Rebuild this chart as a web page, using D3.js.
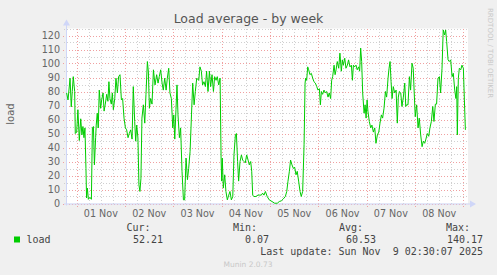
<!DOCTYPE html>
<html>
<head>
<meta charset="utf-8">
<script src="https://cdnjs.cloudflare.com/ajax/libs/d3/7.8.5/d3.min.js"></script>
<style>
  body { margin: 0; background: #f0f0f0; }
  svg { display: block; }
</style>
</head>
<body>
<script>
// hours since 01 Nov 2025 00:00 (UTC)
var hours = [
  -5.0, -4.3, -3.3, -2.7, -2.2, -1.7, -1.0, -0.7, 0.0, 0.6, 1.3, 2.0, 2.6, 3.1, 3.6, 4.1, 4.6, 4.9, 5.3, 5.8,
  6.6, 7.3, 7.8, 8.3, 8.8, 9.4, 9.7, 10.2, 10.7, 11.2, 11.9, 12.4, 13.1, 13.6, 14.2, 14.9, 15.5, 16.0, 16.5, 17.2,
  17.7, 18.2, 18.9, 19.5, 20.2, 20.8, 21.5, 22.2, 22.8, 23.5, 24.2, 24.8, 25.5, 26.1, 26.8, 27.5, 28.1, 28.8, 29.3, 29.8,
  30.4, 30.9, 31.4, 31.9, 32.4, 33.1, 33.8, 34.4, 35.1, 35.6, 36.1, 36.7, 37.4, 38.1, 38.9, 39.7, 40.4, 41.0, 41.7, 42.4,
  43.0, 43.7, 44.4, 45.0, 45.7, 46.3, 47.0, 47.7, 48.2, 48.7, 49.3, 49.8, 50.3, 51.0, 51.6, 52.3, 53.0, 53.6, 54.3, 55.0,
  55.6, 56.3, 57.0, 57.6, 58.3, 58.9, 59.6, 60.6, 61.2, 61.9, 62.5, 63.2, 63.9, 64.5, 65.2, 65.9, 66.5, 67.2, 67.9, 68.5,
  69.2, 69.8, 70.5, 71.2, 71.7, 72.0, 72.3, 72.8, 73.5, 74.1, 74.8, 75.5, 76.1, 76.8, 77.5, 78.1, 78.8, 79.3, 79.9, 80.4,
  81.1, 81.8, 82.4, 83.1, 83.7, 84.4, 85.1, 85.7, 86.4, 86.9, 87.4, 88.0, 89.0, 90.0, 90.7, 91.7, 92.3, 93.0, 93.7, 94.6,
  95.6, 97.0, 98.3, 99.6, 100.6, 101.6, 102.6, 103.6, 104.3, 104.9, 105.6, 106.2, 106.9, 107.6, 108.2, 108.9, 109.5, 110.2, 110.9, 111.5,
  112.2, 112.9, 113.4, 113.7, 114.2, 114.7, 115.2, 115.8, 116.5, 117.2, 117.8, 118.5, 119.2, 119.8, 120.5, 121.0, 121.5, 122.1, 122.8, 123.5,
  124.1, 124.8, 125.4, 126.1, 126.6, 127.1, 127.8, 128.3, 128.8, 129.4, 130.1, 130.7, 131.4, 131.9, 132.4, 133.1, 133.7, 134.4, 135.0, 135.7,
  136.4, 136.9, 137.4, 138.0, 138.7, 139.3, 140.0, 140.5, 141.0, 141.5, 142.0, 142.7, 143.2, 143.7, 144.2, 144.6, 145.3, 146.0, 146.6, 147.3,
  148.0, 148.6, 149.3, 150.0, 150.6, 151.3, 151.9, 152.6, 153.3, 153.9, 154.6, 155.1, 155.6, 156.1, 156.6, 157.2, 157.9, 158.6, 159.2, 159.7,
  160.2, 160.9, 161.5, 162.2, 162.9, 163.4, 163.8, 164.5, 165.2, 165.8, 166.5, 167.1, 167.6, 168.1, 168.8, 169.5, 170.1, 170.8, 171.5, 172.1,
  172.8, 173.4, 174.1, 174.8, 175.4, 176.1, 176.8, 177.4, 178.1, 178.7, 179.4, 180.1, 180.7, 181.4, 182.0, 182.7, 183.2, 183.7, 184.4, 185.0,
  185.7, 186.4, 187.0, 187.7, 188.3, 188.7, 189.0, 189.5, 190.0, 190.7, 191.3, 192.0, 192.5, 193.0
];
var load = [
  79, 74, 89.5, 69, 80, 90.6, 80, 50, 51, 67, 45, 60.5, 49, 55, 47, 54, 25, 4, 11, 3,
  4.4, 3, 54, 55, 27.6, 47, 56, 64.5, 54, 81, 68, 74, 79, 66, 71, 78, 73, 87, 75, 71,
  79, 67, 75, 89.5, 79, 90.6, 92, 74, 75, 61, 54, 52.6, 47, 50, 52.6, 46, 83.5, 58.6, 44.5, 56,
  47, 13.3, 8.6, 18, 61, 70.5, 57.4, 78, 101.4, 94, 68, 75, 71, 95.5, 84.7, 92, 86, 90.6, 95.5, 86,
  81, 89.5, 81, 89.5, 96.6, 79, 75, 54, 63.3, 46, 67, 84.7, 63.3, 47, 54, 23, 2.6, 2.6, 32.4, 17,
  25, 37, 63.3, 86, 70.5, 80, 89.5, 88, 97.6, 94.5, 84.7, 87, 83.5, 94.5, 80, 94.5, 83.5, 92, 80, 90.6,
  88, 90.6, 84.7, 89.5, 32.4, 16, 32.4, 11, 20.5, 8.6, 2.6, 6, 8.6, 2.6, 5, 34.7, 49, 50, 30, 16,
  30, 34.7, 31, 30, 29, 34.7, 31, 27.6, 30, 23, 6, 5, 5, 6, 6, 6, 7.4, 6, 8.6, 5,
  2.6, 1.4, 0.2, 0.2, 1.4, 1.9, 3.3, 5, 8.6, 15.8, 23, 31, 27.6, 25, 26, 20.5, 23, 16, 8.6, 5,
  8.6, 42, 86, 89.5, 88, 97.6, 95.5, 92, 93, 89.5, 87, 86, 83.5, 81, 82, 70.5, 80, 78, 81, 79,
  80, 76, 79, 75, 88, 90.6, 98.8, 92, 95.5, 101.4, 96.6, 107.4, 94.5, 102.6, 98.8, 103.8, 96.6, 98.8, 102.6, 97.6,
  98.8, 88, 98.8, 97.6, 98.8, 95.5, 97.6, 94.5, 111, 101.4, 79, 64.5, 70.5, 61, 74, 66, 58.6, 54, 56, 51,
  54, 43, 49, 51, 57.4, 63.3, 61, 68, 80, 76, 89.5, 96.6, 101.4, 87, 75, 83.5, 79, 81, 57.4, 76,
  80, 79, 69.3, 76, 86, 69.3, 70.5, 70.5, 90.6, 81, 100.2, 96.6, 79, 62, 70.5, 54, 61, 49, 40.6, 44.5,
  43, 46, 50, 48, 54, 58.6, 69.3, 58.6, 71, 71, 89.5, 90.6, 79, 96.6, 124, 120.4, 124, 115.7, 102.6, 101.4,
  102.6, 90.6, 93, 81, 75, 83.5, 49, 89.5, 96.6, 95.5, 98.8, 96.6, 74, 52.6
];
var yTicks = [0, 10, 20, 30, 40, 50, 60, 70, 80, 90, 100, 110, 120];
var legendHeads = ["Cur:", "Min:", "Avg:", "Max:"];
var legendValues = ["52.21", "0.07", "60.53", "140.17"];
var timeWindow = [-5.31, 194.3]; // hours shown on the x axis

var base = Date.UTC(2025, 10, 1);
function hourDate(h) { return new Date(base + h * 3600e3); }

var W = 497, H = 275;
var pL = 66, pR = 468, pT = 28.5, pB = 203.5;

var svg = d3.select("body").append("svg")
  .attr("width", W).attr("height", H)
  .style("font-family", "'DejaVu Sans', sans-serif");

svg.append("rect").attr("width", W).attr("height", H).attr("fill", "#f0f0f0");
svg.append("rect")
  .attr("x", pL).attr("y", pT)
  .attr("width", pR - pL).attr("height", pB - pT)
  .attr("fill", "#ffffff");

var x = d3.scaleUtc()
  .domain(timeWindow.map(hourDate))
  .range([pL, pR]);
var y = d3.scaleLinear().domain([0, 125]).range([pB, pT]);

var grid = svg.append("g").attr("shape-rendering", "crispEdges");

// minor grid
grid.selectAll(".vmin")
  .data(x.ticks(d3.utcHour.every(6)))
  .enter().append("line")
  .attr("x1", function(d) { return Math.round(x(d)) + 0.5; })
  .attr("x2", function(d) { return Math.round(x(d)) + 0.5; })
  .attr("y1", pT).attr("y2", pB + 2)
  .attr("stroke", "#d0d0d0").attr("stroke-dasharray", "1,2");
grid.selectAll(".hmin")
  .data(d3.range(5, 126, 10))
  .enter().append("line")
  .attr("x1", pL - 2).attr("x2", pR)
  .attr("y1", function(d) { return Math.round(y(d)) + 0.5; })
  .attr("y2", function(d) { return Math.round(y(d)) + 0.5; })
  .attr("stroke", "#d0d0d0").attr("stroke-dasharray", "1,2");

// major grid
grid.selectAll(".vmaj")
  .data(x.ticks(d3.utcDay.every(1)))
  .enter().append("line")
  .attr("x1", function(d) { return Math.round(x(d)) + 0.5; })
  .attr("x2", function(d) { return Math.round(x(d)) + 0.5; })
  .attr("y1", pT).attr("y2", pB + 3)
  .attr("stroke", "#f0a0a0").attr("stroke-dasharray", "1,2");
grid.selectAll(".hmaj")
  .data(yTicks)
  .enter().append("line")
  .attr("x1", pL - 3).attr("x2", pR)
  .attr("y1", function(d) { return Math.round(y(d)) + 0.5; })
  .attr("y2", function(d) { return Math.round(y(d)) + 0.5; })
  .attr("stroke", "#f0a0a0").attr("stroke-dasharray", "1,2");

// axes in munin's pale blue, with arrows
var axisCol = "#cfd6f8";
svg.append("line").attr("x1", pL + 0.5).attr("x2", pL + 0.5)
  .attr("y1", pB + 2).attr("y2", pT - 4)
  .attr("stroke", axisCol);
svg.append("line").attr("x1", pL - 2).attr("x2", pR + 4)
  .attr("y1", pB + 0.5).attr("y2", pB + 0.5)
  .attr("stroke", axisCol);
svg.append("path")
  .attr("d", "M" + (pL - 3) + "," + (pT - 3) + "L" + (pL + 0.5) + "," + (pT - 9) + "L" + (pL + 4) + "," + (pT - 3) + "Z")
  .attr("fill", axisCol);
svg.append("path")
  .attr("d", "M" + (pR + 2) + "," + (pB - 3) + "L" + (pR + 8) + "," + (pB + 0.5) + "L" + (pR + 2) + "," + (pB + 4) + "Z")
  .attr("fill", axisCol);

// the load line
var pts = hours.map(function(h, i) { return { t: hourDate(h), v: load[i] }; });
var line = d3.line()
  .x(function(d) { return x(d.t); })
  .y(function(d) { return y(d.v); });
svg.append("path")
  .datum(pts)
  .attr("fill", "none")
  .attr("stroke", "#00cc00")
  .attr("stroke-width", 1)
  .attr("stroke-linejoin", "round")
  .attr("d", line);

// y labels
svg.selectAll(".ylab")
  .data(yTicks)
  .enter().append("text")
  .attr("x", pL - 6)
  .attr("y", function(d) { return y(d) + 3.5; })
  .attr("text-anchor", "end")
  .attr("font-size", "9.6px")
  .attr("fill", "#666")
  .text(function(d) { return d; });

// x labels, centred at noon
var days = x.ticks(d3.utcDay.every(1)).filter(function(d) {
  return x(d3.utcHour.offset(d, 12)) < pR;
});
svg.selectAll(".xlab")
  .data(days)
  .enter().append("text")
  .attr("x", function(d) { return x(d3.utcHour.offset(d, 12)); })
  .attr("y", 216.5)
  .attr("text-anchor", "middle")
  .attr("font-size", "9.6px")
  .attr("fill", "#666")
  .text(d3.utcFormat("%d %b"));

svg.append("text")
  .attr("x", W / 2).attr("y", 23)
  .attr("text-anchor", "middle")
  .attr("font-size", "12.5px")
  .attr("fill", "#555")
  .text("Load average - by week");

svg.append("text")
  .attr("transform", "translate(13.5,114) rotate(-90)")
  .attr("text-anchor", "middle")
  .attr("font-size", "10px")
  .attr("fill", "#666")
  .text("load");

svg.append("text")
  .attr("transform", "translate(488,8) rotate(90)")
  .attr("font-size", "7px")
  .attr("fill", "#c8c8c8")
  .text("RRDTOOL / TOBI OETIKER");

// legend
var mono = "'DejaVu Sans Mono', monospace";
var headX = [150.5, 257, 363, 470];
var valX = [163, 269, 376, 483];
svg.selectAll(".lh")
  .data(legendHeads)
  .enter().append("text")
  .attr("x", function(d, i) { return headX[i]; })
  .attr("y", 231)
  .attr("text-anchor", "end")
  .attr("font-family", mono).attr("font-size", "10px")
  .attr("fill", "#444")
  .text(function(d) { return d; });
svg.selectAll(".lv")
  .data(legendValues)
  .enter().append("text")
  .attr("x", function(d, i) { return valX[i]; })
  .attr("y", 243)
  .attr("text-anchor", "end")
  .attr("font-family", mono).attr("font-size", "10px")
  .attr("fill", "#444")
  .text(function(d) { return d; });

svg.append("rect")
  .attr("x", 14).attr("y", 236.5).attr("width", 6).attr("height", 6)
  .attr("fill", "#00cc00");
svg.append("text")
  .attr("x", 26.5).attr("y", 243)
  .attr("font-family", mono).attr("font-size", "10px")
  .attr("fill", "#444")
  .text("load");

svg.append("text")
  .attr("x", 483).attr("y", 255)
  .attr("text-anchor", "end")
  .attr("font-family", mono).attr("font-size", "10px")
  .attr("fill", "#444")
  .attr("xml:space", "preserve")
  .style("white-space", "pre")
  .text("Last update: Sun Nov  9 02:30:07 2025");

svg.append("text")
  .attr("x", 248).attr("y", 266.5)
  .attr("text-anchor", "middle")
  .attr("font-size", "7.5px")
  .attr("fill", "#c8c8c8")
  .text("Munin 2.0.73");
</script>
</body>
</html>
